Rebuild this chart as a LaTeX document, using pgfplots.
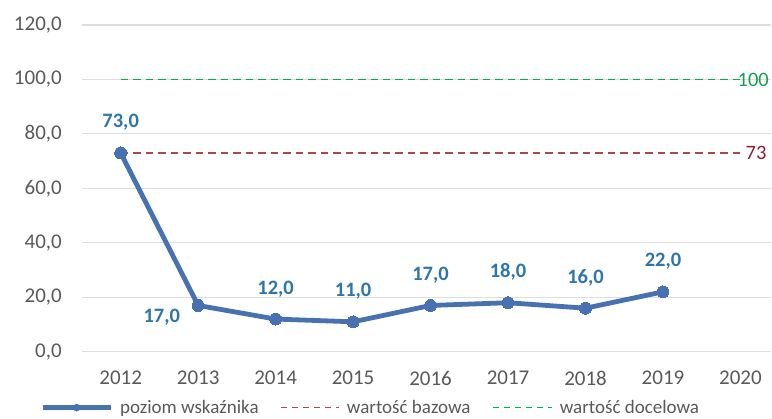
\documentclass[border=0pt]{standalone}
\usepackage{pgfplots}
\pgfplotsset{compat=1.18}
\usepackage{fontspec}
\setmainfont{Carlito}
\definecolor{mainblue}{RGB}{72,113,178}
\definecolor{lblblue}{RGB}{46,117,170}
\definecolor{greenline}{RGB}{0,176,80}
\definecolor{greenlbl}{RGB}{20,160,80}
\definecolor{redline}{RGB}{165,75,75}
\definecolor{redlbl}{RGB}{140,30,50}
\definecolor{textgray}{RGB}{89,89,89}
\definecolor{gridgray}{RGB}{222,222,222}
\begin{document}
\begin{tikzpicture}
\begin{axis}[
  scale only axis,
  width=690bp, height=327bp,
  at={(0,0)}, anchor=south west,
  xmin=2011.5, xmax=2020.4,
  ymin=0, ymax=120,
  xtick={2012,2013,2014,2015,2016,2017,2018,2019,2020},
  ytick={0,20,40,60,80,100,120},
  axis line style={draw=none},
  major tick length=0pt,
  ymajorgrids,
  grid style={color=gridgray, line width=1.1bp},
  clip=false,
  font=\fontsize{20.5bp}{24bp}\selectfont,
  tick label style={font=\fontsize{21bp}{24bp}\selectfont, text=textgray, inner sep=0pt},
  yticklabel shift=20bp,
  xticklabel shift=19bp,
  yticklabel style={/pgf/number format/.cd, fixed, fixed zerofill, precision=1, use comma, assume math mode=true},
  xticklabel style={/pgf/number format/.cd, 1000 sep={}, assume math mode=true},
  legend style={at={(-0.0609,-0.171)}, anchor=west, draw=none, fill=none, inner sep=0pt,
    font=\fontsize{19bp}{22bp}\selectfont,
    /tikz/every odd column/.append style={column sep=5bp},
    /tikz/every even column/.append style={column sep=20bp}},
  legend columns=3,
  legend cell align=left,
]
\addlegendimage{legend image code/.code={\color{mainblue}\draw[line width=5bp] (0bp,0bp)--(68bp,0bp); \fill (34bp,0bp) circle (3.5bp);}}
\addlegendentry{\textcolor{textgray}{poziom wskaźnika}}
\addlegendimage{legend image code/.code={\color{redline}\draw[line width=1.4bp, dash pattern=on 6bp off 5bp] (0bp,0bp)--(58bp,0bp);}}
\addlegendentry{\textcolor{textgray}{wartość bazowa}}
\addlegendimage{legend image code/.code={\color{greenline}\draw[line width=1.4bp, dash pattern=on 6bp off 5bp] (0bp,0bp)--(59bp,0bp);}}
\addlegendentry{\textcolor{textgray}{wartość docelowa}}

% dummy first plot (invisible)
\addplot[forget plot, color=white, line width=0.1bp] coordinates {(2011.6,-1) (2011.6,-1)};
% target value
\addplot[forget plot, color=greenline, line width=1.7bp, dash pattern=on 7.5bp off 5bp] coordinates {(2012,100) (2020,100)};
% base value
\addplot[forget plot, color=redline, line width=1.5bp, dash pattern=on 7.5bp off 5bp] coordinates {(2012,73) (2020,73)};

% main series
\addplot[forget plot, color=mainblue, line width=4.8bp, mark=*, mark size=6bp, mark options={fill=mainblue, draw=mainblue, line width=0pt}]
  coordinates {(2012,73) (2013,17) (2014,12) (2015,11) (2016,17) (2017,18) (2018,16) (2019,22)};

% data labels
\addplot[forget plot, draw=none, mark=none,
  nodes near coords={\pgfmathprintnumber[fixed, fixed zerofill, precision=1, use comma, assume math mode=true]{\pgfplotspointmeta}},
  every node near coord/.append style={anchor=base, yshift=25bp, inner sep=0pt, text=lblblue, font=\bfseries\fontsize{20.5bp}{24bp}\selectfont}]
  coordinates {(2012,73) (2014,12) (2015,11) (2016,17) (2017,18) (2018,16) (2019,22)};
\addplot[forget plot, draw=none, mark=none,
  nodes near coords={\pgfmathprintnumber[fixed, fixed zerofill, precision=1, use comma, assume math mode=true]{\pgfplotspointmeta}},
  every node near coord/.append style={anchor=base east, xshift=-18bp, yshift=-17bp, inner sep=0pt, text=lblblue, font=\bfseries\fontsize{20.5bp}{24bp}\selectfont}]
  coordinates {(2013,17)};
\addplot[forget plot, draw=none, mark=none,
  nodes near coords={\pgfmathprintnumber[int detect, assume math mode=true]{\pgfplotspointmeta}},
  every node near coord/.append style={anchor=west, xshift=-3bp, inner sep=0pt, text=greenlbl, font=\fontsize{20.5bp}{24bp}\selectfont}]
  coordinates {(2020,100)};
\addplot[forget plot, draw=none, mark=none,
  nodes near coords={\pgfmathprintnumber[int detect, assume math mode=true]{\pgfplotspointmeta}},
  every node near coord/.append style={anchor=west, xshift=5bp, inner sep=0pt, text=redlbl, font=\fontsize{20.5bp}{24bp}\selectfont}]
  coordinates {(2020,73)};
\end{axis}
\path (-82bp,-67bp) rectangle (690bp,352bp);
\end{tikzpicture}
\end{document}
